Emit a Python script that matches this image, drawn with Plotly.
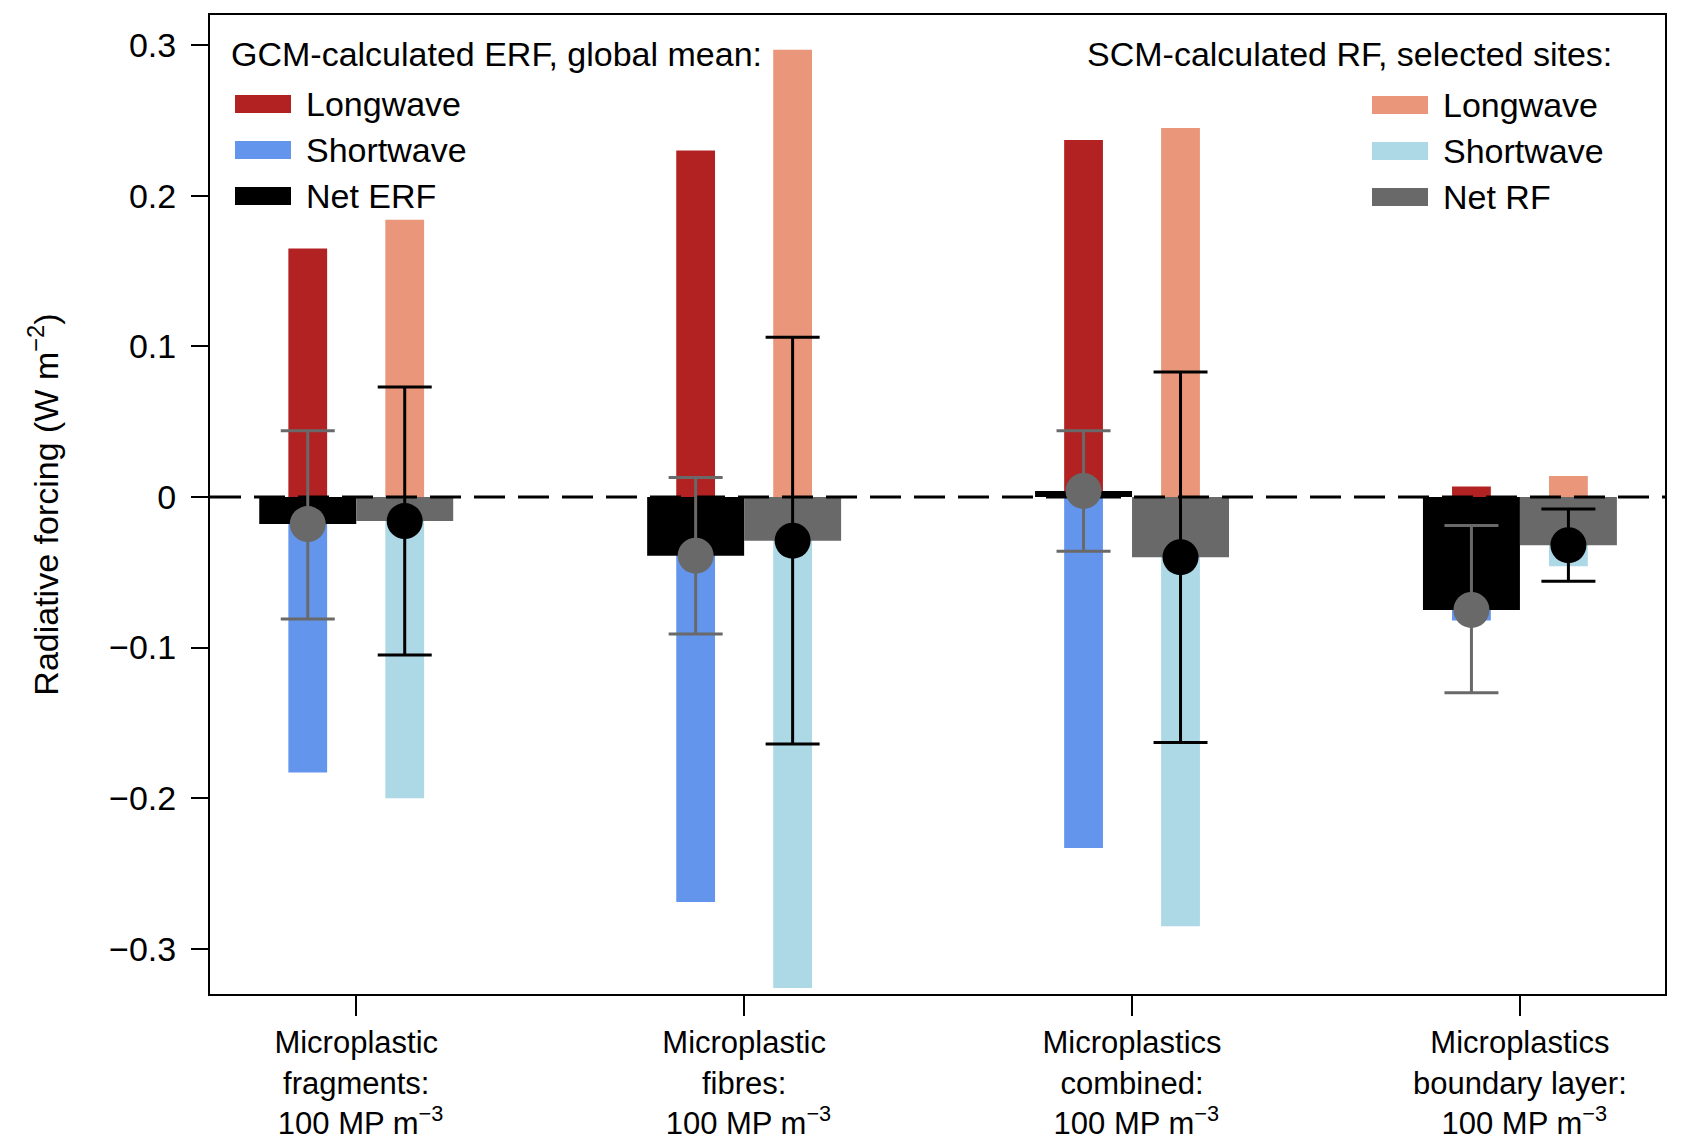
import plotly.graph_objects as go

# ---------------- data ----------------
categories = [
    "Microplastic<br>fragments:<br>\u00a0100 MP m<sup>\u22123</sup>",
    "Microplastic<br>fibres:<br>\u00a0100 MP m<sup>\u22123</sup>",
    "Microplastics<br>combined:<br>\u00a0100 MP m<sup>\u22123</sup>",
    "Microplastics<br>boundary layer:<br>\u00a0100 MP m<sup>\u22123</sup>",
]

gcm_lw = [0.165, 0.230, 0.237, 0.007]
gcm_sw = [-0.183, -0.269, -0.233, -0.082]
gcm_net = [-0.018, -0.039, 0.004, -0.075]
gcm_net_hi = [0.044, 0.013, 0.044, -0.019]
gcm_net_lo = [-0.081, -0.091, -0.036, -0.130]

scm_lw = [0.184, 0.297, 0.245, 0.014]
scm_sw = [-0.200, -0.326, -0.285, -0.046]
scm_net = [-0.016, -0.029, -0.040, -0.032]
scm_net_hi = [0.073, 0.106, 0.083, -0.008]
scm_net_lo = [-0.105, -0.164, -0.163, -0.056]

y_tickvals = [-0.3, -0.2, -0.1, 0, 0.1, 0.2, 0.3]
y_ticktext = ["\u22120.3", "\u22120.2", "\u22120.1", "0", "0.1", "0.2", "0.3"]

# ---------------- style ----------------
FONT = "Liberation Sans, Arial, Helvetica, sans-serif"
FS = 34
FS_X = 31
C_GCM_LW = "#B22222"
C_GCM_SW = "#6495ED"
C_GCM_NET = "#000000"
C_SCM_LW = "#E9967A"
C_SCM_SW = "#ADD8E6"
C_SCM_NET = "#696969"

PAGE_OFF = 8  # default body margin of the html page
W, H = 1667, 1142
# plot box on screen: left 210, top 15, right 1665, bottom 994
ML = 210 - PAGE_OFF
MT = 15 - PAGE_OFF
MR = W - (1665 - PAGE_OFF)
MB = H - (994 - PAGE_OFF)
X_RANGE = [-0.377, 3.374]
Y_RANGE = [-0.33, 0.32]

OFF = 0.125
THIN = 0.1
WIDE = 0.25

idx = list(range(len(categories)))
x_gcm = [i - OFF for i in idx]
x_scm = [i + OFF for i in idx]

fig = go.Figure()

def bar(x, y, color, width):
    fig.add_trace(go.Bar(x=x, y=y, width=width, marker=dict(color=color, line=dict(width=0)),
                         showlegend=False, hoverinfo="skip"))

bar(x_gcm, gcm_lw, C_GCM_LW, THIN)
bar(x_gcm, gcm_sw, C_GCM_SW, THIN)
bar(x_scm, scm_lw, C_SCM_LW, THIN)
bar(x_scm, scm_sw, C_SCM_SW, THIN)
bar(x_gcm, gcm_net, C_GCM_NET, WIDE)
bar(x_scm, scm_net, C_SCM_NET, WIDE)

# zero line
fig.add_trace(go.Scatter(x=X_RANGE, y=[0, 0], mode="lines",
                         line=dict(color="black", width=3, dash="31px,13px"),
                         showlegend=False, hoverinfo="skip", cliponaxis=True))

def dots(x, y, hi, lo, color):
    fig.add_trace(go.Scatter(
        x=x, y=y, mode="markers",
        marker=dict(size=36, color=color, line=dict(width=0)),
        error_y=dict(type="data", symmetric=False,
                     array=[h - v for h, v in zip(hi, y)],
                     arrayminus=[v - l for v, l in zip(y, lo)],
                     color=color, thickness=3, width=27),
        showlegend=False, hoverinfo="skip", cliponaxis=False))

dots(x_gcm, gcm_net, gcm_net_hi, gcm_net_lo, C_SCM_NET)
dots(x_scm, scm_net, scm_net_hi, scm_net_lo, "#000000")

# ---------------- custom legends ----------------
PW = W - ML - MR
PH = H - MT - MB

def px(xs):
    return (xs - PAGE_OFF - ML) / PW

def py(ys):
    return (H - MB - (ys - PAGE_OFF)) / PH

shapes = []
annots = []

annots.append(dict(text="GCM-calculated ERF, global mean:", x=px(229), y=py(54),
                   xref="paper", yref="paper", xanchor="left", yanchor="middle",
                   showarrow=False, font=dict(size=FS, family=FONT, color="black")))
annots.append(dict(text="SCM-calculated RF, selected sites:", x=px(1614), y=py(54),
                   xref="paper", yref="paper", xanchor="right", yanchor="middle",
                   showarrow=False, font=dict(size=FS, family=FONT, color="black")))

leg1 = [("Longwave", C_GCM_LW), ("Shortwave", C_GCM_SW), ("Net ERF", C_GCM_NET)]
leg2 = [("Longwave", C_SCM_LW), ("Shortwave", C_SCM_SW), ("Net RF", C_SCM_NET)]
rows = [104, 150, 196]

for (lab, col), yc in zip(leg1, rows):
    shapes.append(dict(type="rect", xref="paper", yref="paper",
                       x0=px(235), x1=px(291), y0=py(yc - 9), y1=py(yc + 9),
                       fillcolor=col, line=dict(width=0)))
    annots.append(dict(text=lab, x=px(304), y=py(yc), xref="paper", yref="paper",
                       xanchor="left", yanchor="middle", showarrow=False,
                       font=dict(size=FS, family=FONT, color="black")))

for (lab, col), yc in zip(leg2, [r + 1 for r in rows]):
    shapes.append(dict(type="rect", xref="paper", yref="paper",
                       x0=px(1372), x1=px(1428), y0=py(yc - 9), y1=py(yc + 9),
                       fillcolor=col, line=dict(width=0)))
    annots.append(dict(text=lab, x=px(1441), y=py(yc), xref="paper", yref="paper",
                       xanchor="left", yanchor="middle", showarrow=False,
                       font=dict(size=FS, family=FONT, color="black")))

fig.update_layout(
    width=W, height=H,
    margin=dict(l=ML, r=MR, t=MT, b=MB, pad=0),
    paper_bgcolor="white", plot_bgcolor="white",
    barmode="overlay",
    font=dict(family=FONT, size=FS, color="black"),
    showlegend=False,
    shapes=shapes,
    annotations=annots,
    xaxis=dict(range=X_RANGE, tickmode="array", tickvals=idx, ticktext=categories,
               showgrid=False, zeroline=False, showline=True, mirror=True,
               linecolor="black", linewidth=2, ticks="outside", ticklen=20,
               tickwidth=2, tickcolor="black", tickfont=dict(size=FS_X, family=FONT),
               ticklabelstandoff=0, automargin=False),
    yaxis=dict(range=Y_RANGE, tickmode="array", tickvals=y_tickvals, ticktext=y_ticktext,
               showgrid=False, zeroline=False, showline=True, mirror=True,
               linecolor="black", linewidth=2, ticks="outside", ticklen=17,
               tickwidth=2, tickcolor="black", tickfont=dict(size=FS, family=FONT),
               ticklabelstandoff=8, automargin=False,
               title=dict(text="Radiative forcing (W m<sup>\u22122</sup>)",
                          font=dict(size=FS, family=FONT), standoff=40)),
)

fig.write_html("out.html")
